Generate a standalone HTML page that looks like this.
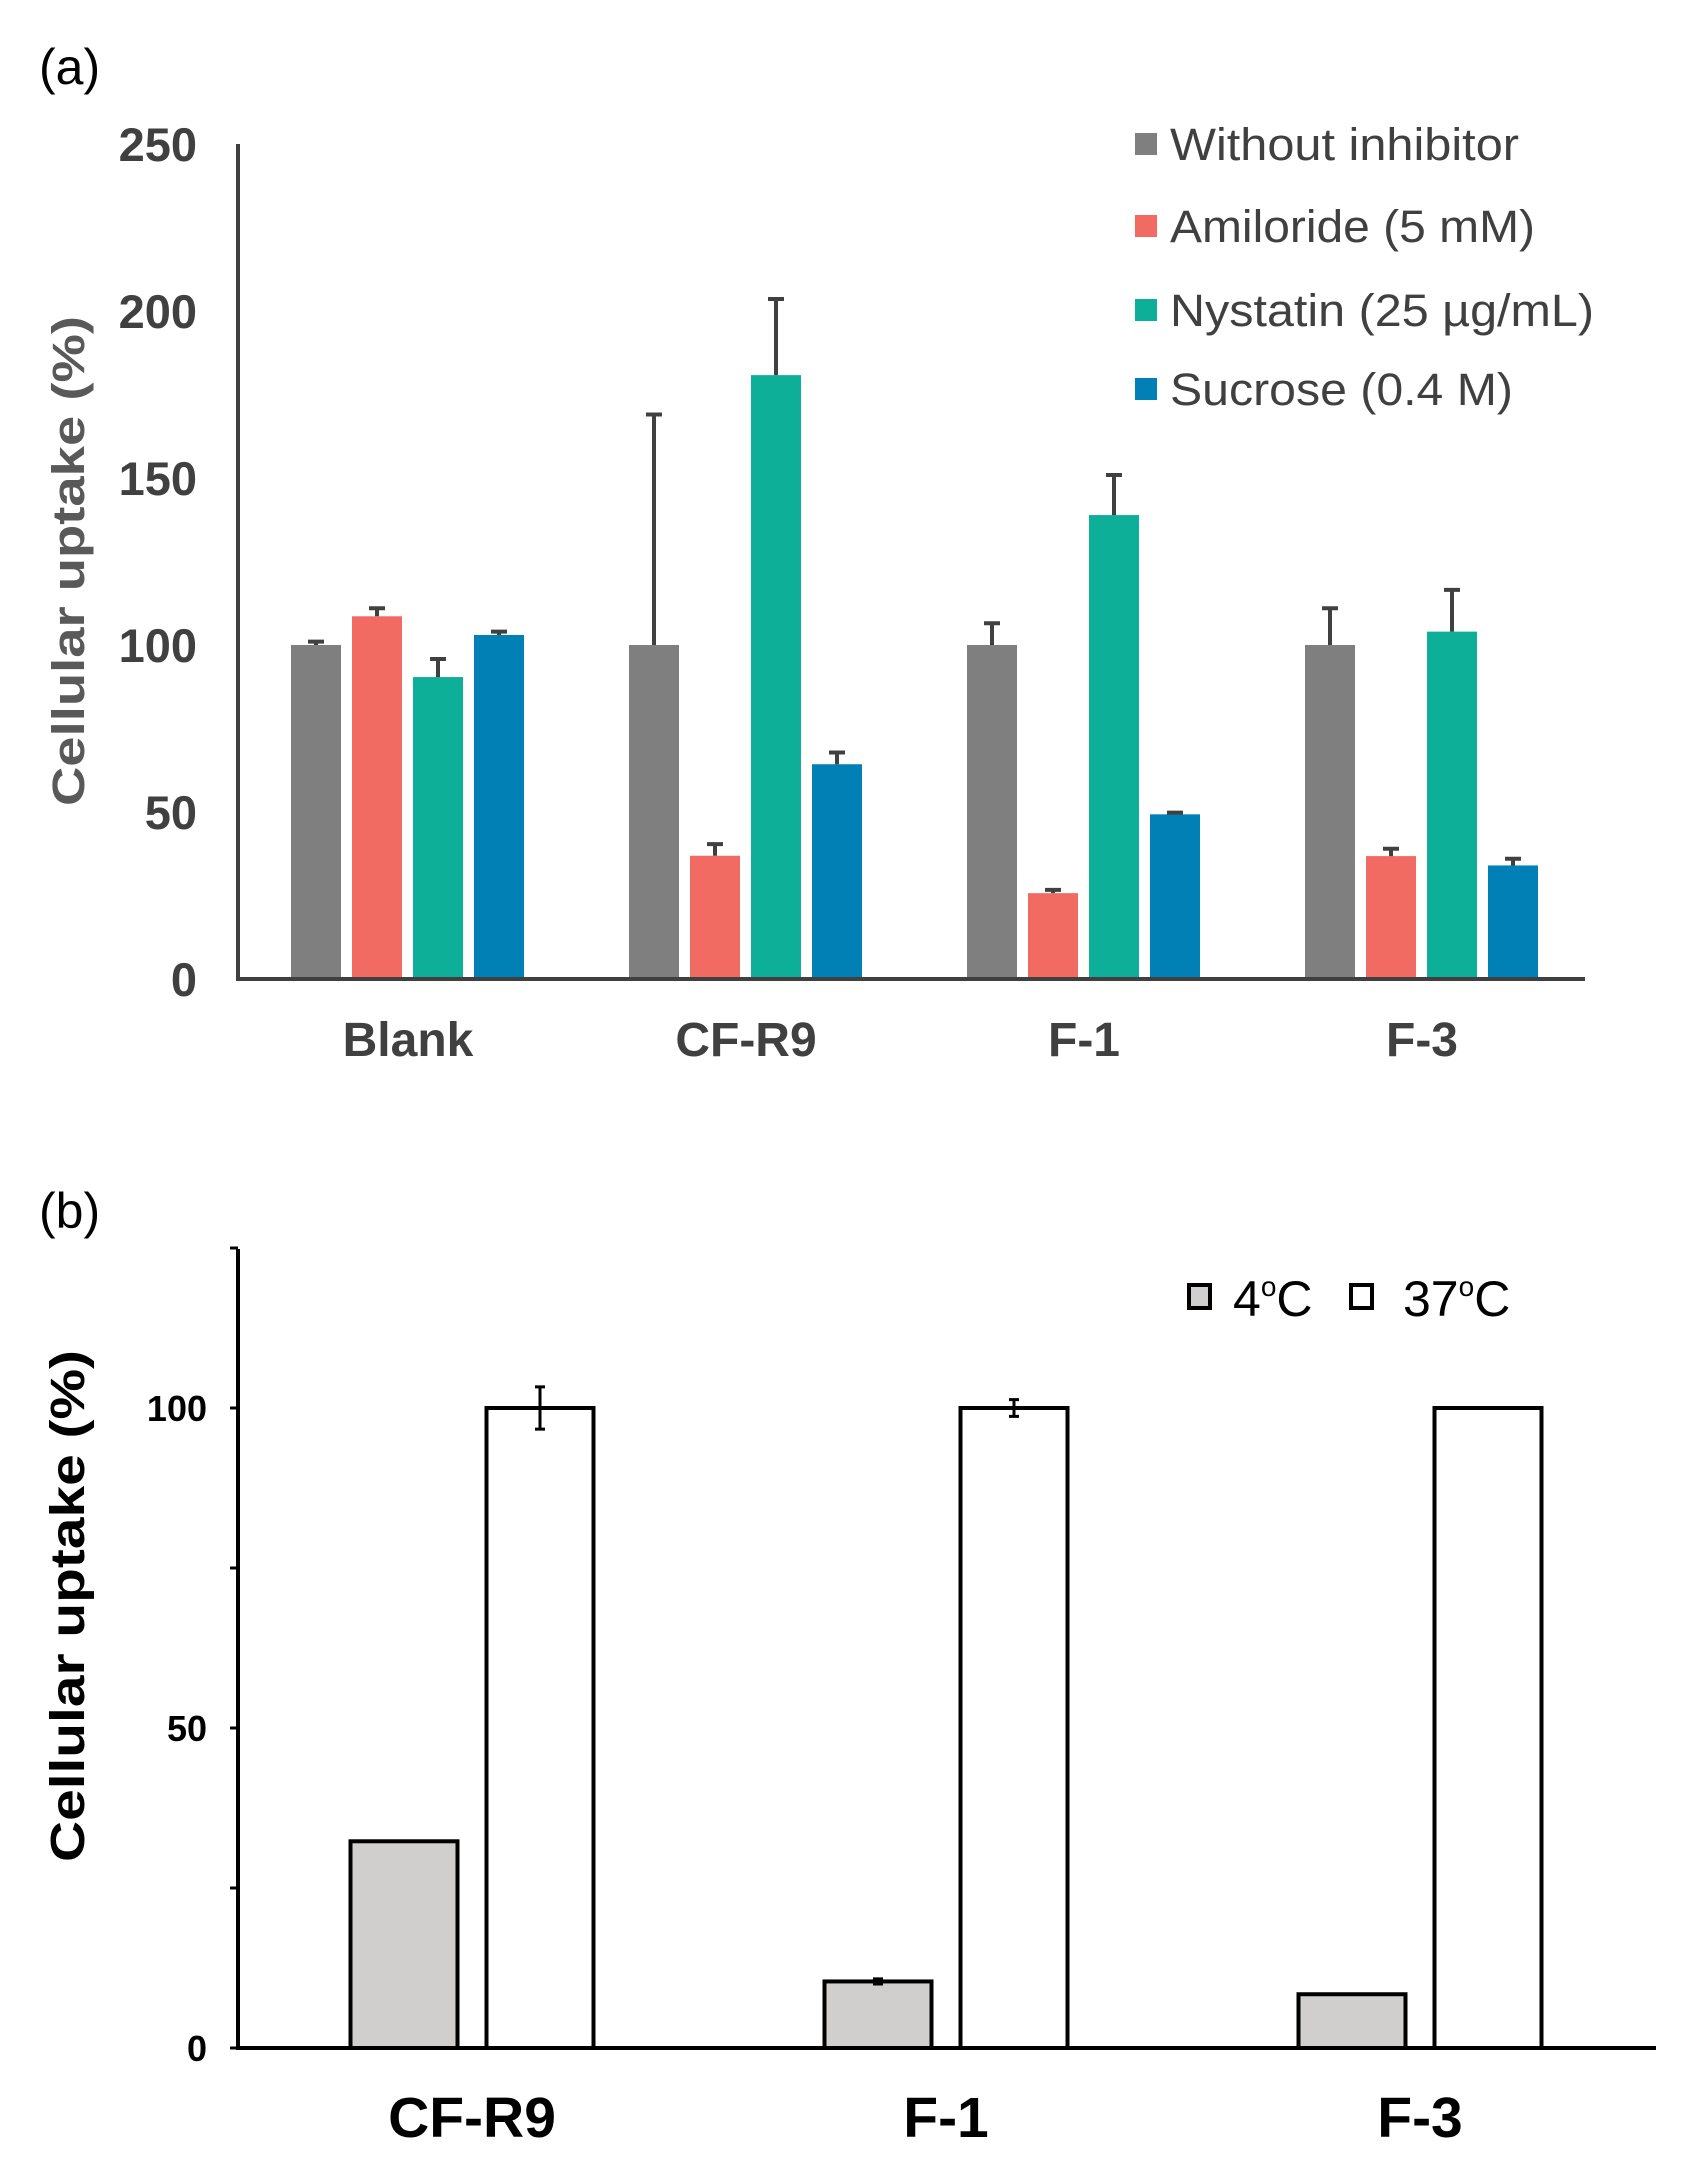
<!DOCTYPE html>
<html><head><meta charset="utf-8">
<style>
html,body{margin:0;padding:0;background:#fff;}
svg{display:block;font-family:"Liberation Sans",Arial,sans-serif;}
</style></head>
<body>
<svg id="fig" width="1689" height="2176" viewBox="0 0 1689 2176" xmlns="http://www.w3.org/2000/svg">
<rect width="1689" height="2176" fill="#fff"/>
<g id="chartA"></g>
<g id="chartB"></g>
</svg>
<script>
// ---- Panel (a) data ----
const catsA = ["Blank","CF-R9","F-1","F-3"];
const seriesNamesA = ["Without inhibitor","Amiloride (5 mM)","Nystatin (25 µg/mL)","Sucrose (0.4 M)"];
const withoutVals = [100,100,100,100];
const withoutErr = [1,69,6.5,11];
const amilorideVals = [108.6,36.9,25.7,36.8];
const amilorideErr = [2.4,3.5,1,2.2];
const nystatinVals = [90.4,180.8,138.9,104];
const nystatinErr = [5.4,22.8,12,12.5];
const sucroseVals = [103,64.3,49.3,34];
const sucroseErr = [1,3.5,0.5,2];
const ticksA = [0,50,100,150,200,250];
// ---- Panel (b) data ----
const catsB = ["CF-R9","F-1","F-3"];
const cold4 = [32.3,10.4,8.4];
const cold4Err = [0,0.4,0];
const warm37 = [100,100,100];
const warm37Err = [3.3,1.3,0];
const ticksB = [0,50,100];
const minorTicksB = [25,75,125];

const NS="http://www.w3.org/2000/svg";
function mk(parent,tag,attrs,text){const e=document.createElementNS(NS,tag);for(const k in attrs)e.setAttribute(k,attrs[k]);if(text!==undefined)e.textContent=text;parent.appendChild(e);return e;}

// ===== Chart A =====
(function(){
const g=document.getElementById('chartA');
const x0=238,x1=1585,yZero=979,yTop=144,vmax=250;
const y=v=>yZero-(v/vmax)*(yZero-yTop);
const groupX=i=>408+i*338;
const colors=["#7f7f7f","#f26b63","#0daf98","#0080b4"];
const vals=[withoutVals,amilorideVals,nystatinVals,sucroseVals];
const errs=[withoutErr,amilorideErr,nystatinErr,sucroseErr];
const offs=[-92,-31,30,91], bw=50;
let t=mk(g,'text',{x:39,y:84,'font-size':50,fill:'#000'},'(a)');


ticksA.forEach(v=>{
 const e=mk(g,'text',{x:197,y:y(v)+17,'font-size':47,'font-weight':'bold',fill:'#404040','text-anchor':'end'},String(v));
 
 
});
t=mk(g,'text',{transform:'translate(84,561) rotate(-90)','font-size':45,'font-weight':'bold',fill:'#595959','text-anchor':'middle',textLength:490,lengthAdjust:'spacingAndGlyphs'},'Cellular uptake (%)');


catsA.forEach((c,i)=>{
 vals.forEach((arr,s)=>{
  const cx=groupX(i)+offs[s];
  const r=mk(g,'rect',{x:cx-bw/2,y:y(arr[i]),width:bw,height:yZero-y(arr[i]),fill:colors[s]});
  
  
  const ey=y(arr[i]+errs[s][i]);
  const eb=mk(g,'path',{d:`M${cx} ${y(arr[i])}V${ey}M${cx-8} ${ey}H${cx+8}`,stroke:'#404040','stroke-width':4,fill:'none'});
  
  
 });
 const l=mk(g,'text',{x:groupX(i),y:1056,'font-size':48,'font-weight':'bold',fill:'#404040','text-anchor':'middle'},c);
 
 
});
const ax=mk(g,'path',{d:`M${x0} ${yTop}V${yZero}H${x1}`,stroke:'#404040','stroke-width':4,fill:'none'});


const ly=[144,226,310,389];
seriesNamesA.forEach((n,s)=>{
 const sq=mk(g,'rect',{x:1135,y:ly[s]-11,width:22,height:22,fill:colors[s]});
 
 
 const w=[349,365,424,343][s];
 const tx=mk(g,'text',{x:1170,y:ly[s]+16,'font-size':45,fill:'#404040',textLength:w,lengthAdjust:'spacingAndGlyphs'},n);
 
 
});
})();

// ===== Chart B =====
(function(){
const g=document.getElementById('chartB');
const x0=238,x1=1656,yZero=2048,yTop=1249;
const y=v=>yZero-(v/100)*(yZero-1408);
const groupX=i=>472+i*474;
const bw=107,off=68;
let t=mk(g,'text',{x:39,y:1228,'font-size':50,fill:'#000'},'(b)');


ticksB.forEach(v=>{
 const e=mk(g,'text',{x:207,y:y(v)+13,'font-size':36,'font-weight':'bold',fill:'#000','text-anchor':'end'},String(v));
 
 
 const tk=mk(g,'line',{x1:x0-8,x2:x0,y1:y(v),y2:y(v),stroke:'#000','stroke-width':3});
 
 
});
minorTicksB.forEach(v=>{
 const tk=mk(g,'line',{x1:x0-8,x2:x0,y1:y(v),y2:y(v),stroke:'#000','stroke-width':3});
 
 
});
t=mk(g,'text',{transform:'translate(84,1606) rotate(-90)','font-size':48,'font-weight':'bold',fill:'#000','text-anchor':'middle',textLength:512,lengthAdjust:'spacingAndGlyphs'},'Cellular uptake (%)');


catsB.forEach((c,i)=>{
 [[cold4,cold4Err,'#d0cfcd',-off],[warm37,warm37Err,'#fff',off]].forEach(([arr,err,fill,o],s)=>{
  const cx=groupX(i)+o;
  const r=mk(g,'rect',{x:cx-bw/2,y:y(arr[i]),width:bw,height:yZero-y(arr[i]),fill:fill,stroke:'#000','stroke-width':4});
  
  
  if(err[i]>0){
   const a=y(arr[i]+err[i]),b=y(arr[i]-err[i]);
   const eb=mk(g,'path',{d:`M${cx} ${a}V${b}M${cx-5} ${a}H${cx+5}M${cx-5} ${b}H${cx+5}`,stroke:'#000','stroke-width':3,fill:'none'});
   
   
  }
 });
 const l=mk(g,'text',{x:groupX(i),y:2137,'font-size':57,'font-weight':'bold',fill:'#000','text-anchor':'middle'},c);
 
 
});
const ax=mk(g,'path',{d:`M${x0} ${yTop}V${yZero}H${x1}`,stroke:'#000','stroke-width':4,fill:'none'});


let sq=mk(g,'rect',{x:1189,y:1285,width:21,height:23,fill:'#d0cfcd',stroke:'#000','stroke-width':4});


let tx=mk(g,'text',{x:1233,y:1316,'font-size':50,fill:'#000'});
tx.innerHTML='4<tspan font-size="28" dy="-20">o</tspan><tspan dy="20">C</tspan>';


sq=mk(g,'rect',{x:1351,y:1285,width:21,height:23,fill:'#fff',stroke:'#000','stroke-width':4});


tx=mk(g,'text',{x:1403,y:1316,'font-size':50,fill:'#000'});
tx.innerHTML='37<tspan font-size="28" dy="-20">o</tspan><tspan dy="20">C</tspan>';


})();
</script>
</body></html>
